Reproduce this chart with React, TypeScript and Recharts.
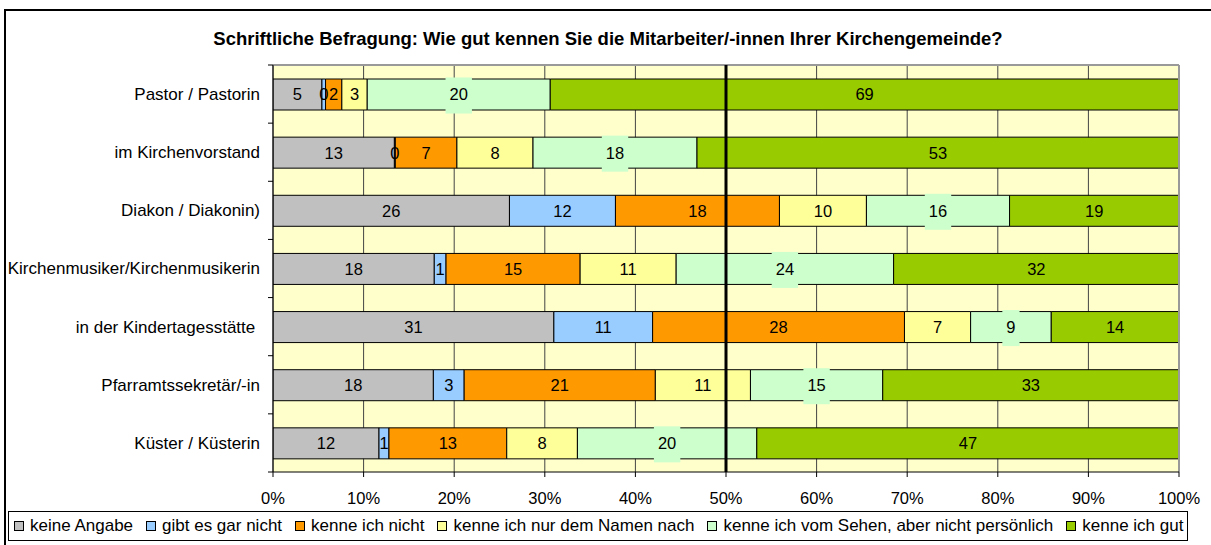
import React from 'react';
import {
  BarChart,
  Bar,
  XAxis,
  YAxis,
  CartesianGrid,
  ReferenceLine,
  LabelList,
  Legend,
} from 'recharts';

// ---------- data ----------
const categories = [
  'Pastor / Pastorin',
  'im Kirchenvorstand',
  'Diakon / Diakonin)',
  'Kirchenmusiker/Kirchenmusikerin',
  'in der Kindertagesstätte ',
  'Pfarramtssekretär/-in',
  'Küster / Küsterin',
];

const keineAngabe = [5.4, 13.4, 26.1, 17.8, 31.0, 17.7, 11.7];
const gibtEsGarNicht = [0.4, 0.1, 11.7, 1.3, 10.9, 3.4, 1.1];
const kenneIchNicht = [1.8, 6.8, 18.1, 14.8, 27.8, 21.1, 13.0];
const nurDemNamenNach = [2.8, 8.4, 9.6, 10.6, 7.3, 10.5, 7.8];
const vomSehen = [20.2, 18.1, 15.8, 24.0, 8.9, 14.6, 19.8];
const kenneIchGut = [69.4, 53.2, 18.7, 31.5, 14.1, 32.7, 46.6];

const seriesNames = [
  'keine Angabe',
  'gibt es gar nicht',
  'kenne ich nicht',
  'kenne ich nur dem Namen nach',
  'kenne ich vom Sehen, aber nicht persönlich',
  'kenne ich gut',
];
const seriesValues = [keineAngabe, gibtEsGarNicht, kenneIchNicht, nurDemNamenNach, vomSehen, kenneIchGut];
const seriesColors = ['#C0C0C0', '#99CCFF', '#FF9900', '#FFFF99', '#CCFFCC', '#99CC00'];
const seriesKeys = ['s0', 's1', 's2', 's3', 's4', 's5'];

const xTicks = [0, 10, 20, 30, 40, 50, 60, 70, 80, 90, 100];

const title = 'Schriftliche Befragung: Wie gut kennen Sie die Mitarbeiter/-innen Ihrer Kirchengemeinde?';

const data = categories.map((name, i) => {
  const row: any = { name };
  seriesKeys.forEach((k, s) => {
    row[k] = seriesValues[s][i];
  });
  return row;
});

// ---------- layout ----------
const FONT = '"Liberation Sans", Arial, Helvetica, sans-serif';
const W = 1211;
const H = 545;
const MARGIN = { top: 65, right: 32, bottom: 43, left: 0 };
const Y_AXIS_W = 273;
const X_AXIS_H = 30;
const PLOT_H = H - MARGIN.top - MARGIN.bottom - X_AXIS_H;
const BAND = PLOT_H / categories.length;
const Y_TICK_SIZE = 5;
const Y_TICK_MARGIN = 8;

function YTick(props: any) {
  const { x, y, payload, index } = props;
  const ax = x + Y_TICK_SIZE + Y_TICK_MARGIN;
  const last = index === categories.length - 1;
  return (
    <g>
      <line x1={ax - Y_TICK_SIZE} x2={ax} y1={y - BAND / 2} y2={y - BAND / 2} stroke="#000" />
      {last && <line x1={ax - Y_TICK_SIZE} x2={ax} y1={y + BAND / 2} y2={y + BAND / 2} stroke="#000" />}
      <text
        x={x}
        y={y}
        dy="0.35em"
        textAnchor="end"
        fontSize={17}
        fill="#000"
        fontFamily={FONT}
        style={{ whiteSpace: 'pre' }}
      >
        {payload.value}
      </text>
    </g>
  );
}

const makeLabel = (values: number[], bg?: string) => (props: any) => {
  const vb = props.viewBox || {};
  const x = Number(props.x ?? vb.x);
  const y = Number(props.y ?? vb.y);
  const w = Number(props.width ?? vb.width);
  const h = Number(props.height ?? vb.height);
  const idx = props.index;
  if (idx == null || isNaN(x) || isNaN(y)) return null;
  const v = values[idx];
  const txt = String(Math.round(v));
  const cx = x + w / 2;
  const cy = y + h / 2;
  const tw = txt.length * 9.2 + 8;
  return (
    <g>
      {bg && <rect x={cx - tw / 2} y={cy - 17} width={tw} height={36} fill={bg} />}
      <text x={cx} y={cy} dy="0.36em" textAnchor="middle" fontSize={16.5} fill="#000" fontFamily={FONT}>
        {txt}
      </text>
    </g>
  );
};

const renderLegend = () => (
  <div
    style={{
      display: 'flex',
      alignItems: 'center',
      width: 1180,
      height: 30,
      boxSizing: 'border-box',
      border: '1px solid #000',
      paddingLeft: 5,
      background: '#fff',
      fontFamily: FONT,
      fontSize: 17,
      color: '#000',
      whiteSpace: 'nowrap',
    }}
  >
    {seriesNames.map((n, i) => (
      <span key={n} style={{ display: 'flex', alignItems: 'center', marginRight: 13 }}>
        <span
          style={{
            display: 'inline-block',
            width: 8,
            height: 8,
            border: '1px solid #000',
            background: seriesColors[i],
            marginRight: 6,
          }}
        />
        {n}
      </span>
    ))}
  </div>
);

export default function App() {
  return (
    <div
      style={{
        position: 'fixed',
        left: 0,
        top: 0,
        width: W,
        height: H,
        overflow: 'hidden',
        background: '#fff',
        fontFamily: FONT,
      }}
    >
      <div
        style={{
          position: 'absolute',
          left: 4,
          top: 9,
          width: 1300,
          height: 700,
          border: '2px solid #000',
          boxSizing: 'border-box',
        }}
      />
      <div
        style={{
          position: 'absolute',
          left: 0,
          top: 28,
          width: 1216,
          textAlign: 'center',
          fontWeight: 'bold',
          fontSize: 18.5,
          lineHeight: '22px',
          color: '#000',
        }}
      >
        {title}
      </div>
      <div style={{ position: 'absolute', left: 0, top: 0 }}>
        <BarChart
          width={W}
          height={H}
          data={data}
          layout="vertical"
          margin={MARGIN}
          barSize={31}
          style={{ fontFamily: FONT }}
        >
          <CartesianGrid horizontal={false} vertical={true} stroke="#444" fill="#FFFFCC" fillOpacity={1} />
          <XAxis
            type="number"
            domain={[0, 100]}
            ticks={xTicks}
            tickFormatter={(v: number) => `${v}%`}
            height={X_AXIS_H}
            axisLine={{ stroke: '#000' }}
            tickLine={{ stroke: '#000' }}
            tickSize={5}
            tickMargin={15}
            tick={{ fill: '#000', fontSize: 16.5, fontFamily: FONT }}
            allowDataOverflow
          />
          <YAxis
            type="category"
            dataKey="name"
            width={Y_AXIS_W}
            axisLine={{ stroke: '#000' }}
            tickLine={false}
            tickSize={Y_TICK_SIZE}
            tickMargin={Y_TICK_MARGIN}
            tick={<YTick />}
            interval={0}
          />
          {seriesKeys.map((k, s) => (
            <Bar
              key={k}
              dataKey={k}
              name={seriesNames[s]}
              stackId="a"
              fill={seriesColors[s]}
              stroke="#000"
              strokeWidth={1}
              isAnimationActive={false}
            >
              <LabelList
                dataKey={k}
                content={makeLabel(seriesValues[s], s === 4 ? seriesColors[4] : undefined)}
              />
            </Bar>
          ))}
          <ReferenceLine y={categories[0]} position="start" stroke="#999" strokeWidth={2} />
          <ReferenceLine x={100} stroke="#999" strokeWidth={2} />
          <ReferenceLine x={50} stroke="#000" strokeWidth={3} />
          <Legend
            layout="vertical"
            align="center"
            verticalAlign="middle"
            wrapperStyle={{ left: 8, top: 511, width: 1180, height: 30 }}
            content={renderLegend}
          />
        </BarChart>
      </div>
    </div>
  );
}
